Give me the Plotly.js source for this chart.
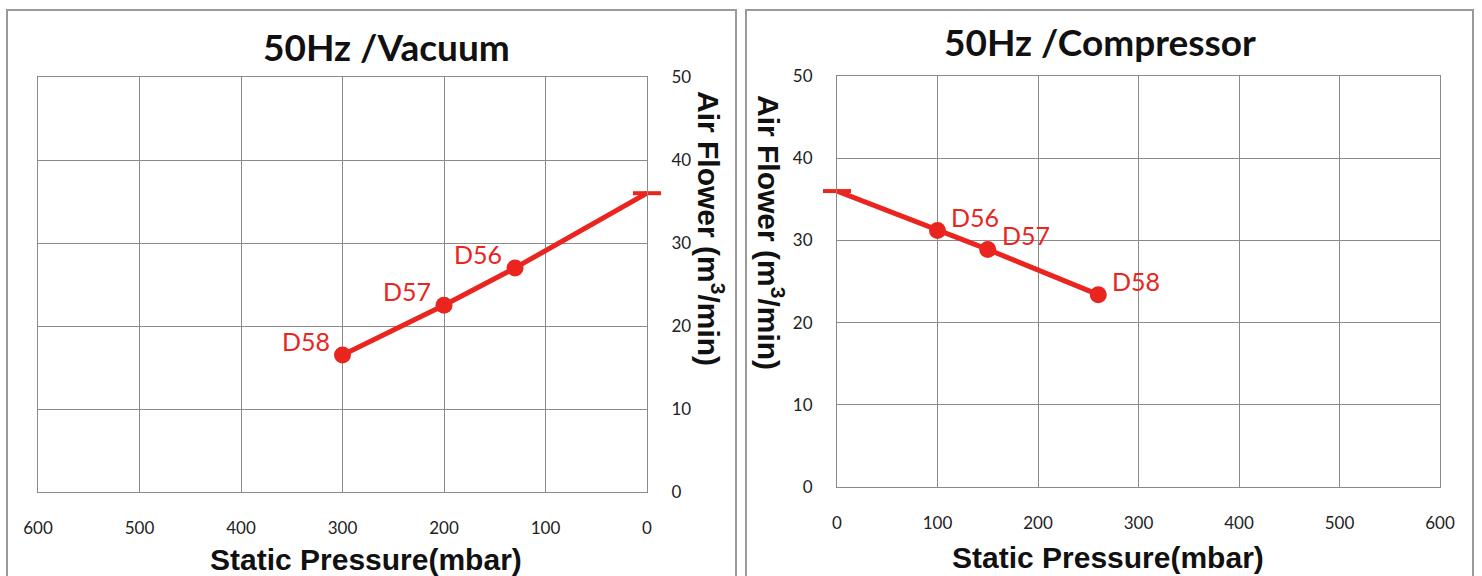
<!DOCTYPE html>
<html>
<head>
<meta charset="utf-8">
<script src="https://cdn.plot.ly/plotly-3.0.1.min.js"></script>
<style>html,body{margin:0;padding:0;background:#fff;}#chart{width:1482px;height:576px;}</style>
</head>
<body>
<div id="chart"></div>
<script>
// Data
const vacPressure = [0, 130, 200, 300];
const vacFlow = [36, 27, 22.5, 16.5];
const vacLabels = ['', 'D56', 'D57', 'D58'];

const compPressure = [0, 100, 150, 260];
const compFlow = [36, 31.2, 28.9, 23.4];
const compLabels = ['', 'D56', 'D57', 'D58'];

const xTicks = [0, 100, 200, 300, 400, 500, 600];
const yTicks = [0, 10, 20, 30, 40, 50];

const titles = ['50Hz /Vacuum', '50Hz /Compressor'];
const xTitle = 'Static Pressure(mbar)';
const yTitle = 'Air Flower (m<sup>3</sup>/min)';

const W = 1482, H = 576;
const px = v => v / W;
const py = v => 1 - v / H;
const RED = '#ea2520';
const GRID = '#8a8a8a';

function series(x, y, xa, ya) {
  return {
    type: 'scatter', mode: 'lines+markers',
    x: x, y: y, xaxis: xa, yaxis: ya,
    line: {color: RED, width: 5},
    marker: {symbol: ['line-ew', 'circle', 'circle', 'circle'], size: [20, 17, 17, 17],
             color: RED, opacity: 1, line: {color: RED, width: [4, 0, 0, 0]}},
    cliponaxis: false, hoverinfo: 'x+y', showlegend: false
  };
}

const traces = [
  series(vacPressure, vacFlow, 'x', 'y'),
  series(compPressure, compFlow, 'x2', 'y2')
];

const labelFont = {family: 'Lato, "Open Sans", sans-serif', size: 25, color: RED};
function pointLabels(x, y, labels, xref, yref, xanchor, xshift, yshift) {
  const out = [];
  for (let i = 0; i < x.length; i++) {
    if (!labels[i]) continue;
    out.push({text: labels[i], x: x[i], y: y[i], xref: xref, yref: yref, showarrow: false,
              xanchor: xanchor, yanchor: 'middle', xshift: xshift, yshift: yshift, font: labelFont});
  }
  return out;
}

const tickFont = {family: 'Lato, "Open Sans", sans-serif', size: 17, color: '#222'};
function xaxis(domain, reversed, anchor) {
  return {domain: domain, anchor: anchor, range: reversed ? [600, 0] : [0, 600],
          tickvals: xTicks, ticktext: xTicks.map(String), showgrid: true, gridcolor: GRID, gridwidth: 1,
          showline: true, mirror: true, linecolor: GRID, linewidth: 1, zeroline: false,
          ticks: '', tickfont: tickFont, ticklabelstandoff: 21, fixedrange: true};
}
function yaxis(domain, side, anchor) {
  return {domain: domain, anchor: anchor, side: side, range: [0, 50],
          tickvals: yTicks, ticktext: yTicks.map(String), showgrid: true, gridcolor: GRID, gridwidth: 1,
          showline: true, mirror: true, linecolor: GRID, linewidth: 1, zeroline: false,
          ticks: '', tickfont: tickFont, ticklabelstandoff: 20, fixedrange: true};
}

const titleFont = {family: 'Lato, "Open Sans", sans-serif', size: 37, color: '#111', weight: 'bold'};
const axisTitleFont = {family: '"Liberation Sans", Arial, sans-serif', size: 30, color: '#111', weight: 'bold'};

const ann = (text, x, y, font, angle) => ({
  text: text, xref: 'paper', yref: 'paper', x: px(x), y: py(y),
  xanchor: 'center', yanchor: 'middle', showarrow: false, font: font, textangle: angle || 0
});

const layout = {
  width: W, height: H,
  margin: {l: 0, r: 0, t: 0, b: 0},
  paper_bgcolor: '#fff', plot_bgcolor: '#fff',
  xaxis: xaxis([px(38), px(647)], true, 'y'),
  yaxis: yaxis([py(492), py(77)], 'right', 'x'),
  xaxis2: xaxis([px(837), px(1440)], false, 'y2'),
  yaxis2: yaxis([py(487), py(76)], 'left', 'x2'),
  annotations: [
    ann(titles[0], 386, 46, titleFont),
    ann(titles[1], 1100, 41, titleFont),
    ann(xTitle, 366, 559, axisTitleFont),
    ann(xTitle, 1108, 557, axisTitleFont),
    ann(yTitle, 711, 228, axisTitleFont, 90),
    ann(yTitle, 771, 232, axisTitleFont, 90)
  ].concat(
    pointLabels(vacPressure, vacFlow, vacLabels, 'x', 'y', 'right', -11, 14),
    pointLabels(compPressure, compFlow, compLabels, 'x2', 'y2', 'left', 12, 14)
  ),
  shapes: [
    {type: 'rect', xref: 'paper', yref: 'paper', x0: px(7), x1: px(736), y0: -0.05, y1: py(10),
     line: {color: '#9a9a9a', width: 2}},
    {type: 'rect', xref: 'paper', yref: 'paper', x0: px(746), x1: px(1473), y0: -0.05, y1: py(10),
     line: {color: '#9a9a9a', width: 2}}
  ]
};

Plotly.newPlot('chart', traces, layout, {displayModeBar: false, staticPlot: true});
</script>
</body>
</html>
